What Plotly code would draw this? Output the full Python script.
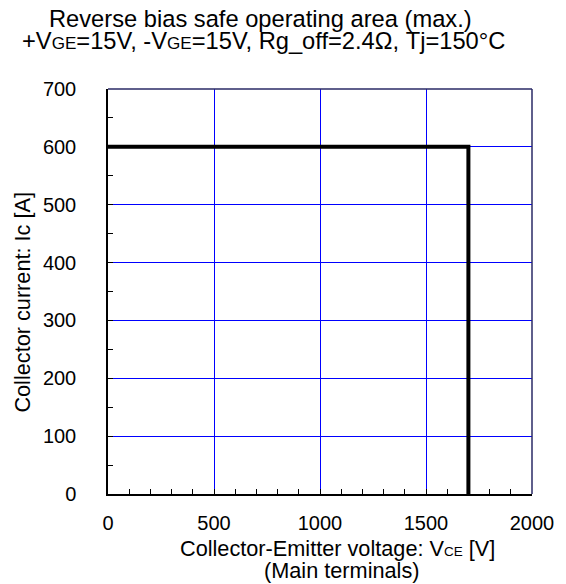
import plotly.graph_objects as go

# Data
vce = [0, 1700, 1700]
ic = [600, 600, 0]
x_ticks = [0, 500, 1000, 1500, 2000]
y_ticks = [0, 100, 200, 300, 400, 500, 600, 700]

FONT = "Liberation Sans, Arial, sans-serif"
W, H = 566, 584
L, R, T, B = 108, 31, 89, 90
TICK_FS = 20
TITLE_FS = 23.7
AX_FS = 21.7

fig = go.Figure()
fig.add_trace(go.Scatter(x=vce, y=ic, mode="lines",
                         line=dict(color="black", width=4),
                         showlegend=False, hoverinfo="skip"))

fig.update_xaxes(range=[0, 2000], tickvals=x_ticks, ticktext=[str(v) for v in x_ticks],
                 showgrid=True, gridcolor="#0000FF", gridwidth=1,
                 showline=True, linecolor="black", linewidth=1.5, mirror=False,
                 ticks="inside", ticklen=5, tickcolor="black",
                 minor=dict(dtick=100, ticks="inside", ticklen=5, tickcolor="black", showgrid=False),
                 zeroline=False, ticklabelstandoff=10,
                 tickfont=dict(family=FONT, size=TICK_FS, color="black"))
fig.update_yaxes(range=[0, 700], tickvals=y_ticks, ticktext=[str(v) for v in y_ticks],
                 showgrid=True, gridcolor="#0000FF", gridwidth=1,
                 showline=True, linecolor="black", linewidth=1.5, mirror=False,
                 ticks="inside", ticklen=5, tickcolor="black",
                 minor=dict(dtick=50, ticks="inside", ticklen=5, tickcolor="black", showgrid=False),
                 zeroline=False, ticklabelstandoff=26,
                 tickfont=dict(family=FONT, size=TICK_FS, color="black"))

# frame top/right
fig.add_shape(type="line", xref="paper", yref="paper", x0=0, x1=1, y0=1, y1=1,
              line=dict(color="#2a2a66", width=1.5))
fig.add_shape(type="line", xref="paper", yref="paper", x0=1, x1=1, y0=0, y1=1,
              line=dict(color="#2a2a66", width=1.5))

pw = W - L - R
ph = H - T - B

def px_x(px):
    return (px - L) / pw

def px_y(py):
    return (H - B - py) / ph

def sub(s, fs, ratio):
    return '<span style="font-size:%.1fpx">%s</span>' % (fs * ratio, s)

anns = [
    ("Reverse bias safe operating area (max.)", 262, 18.5, 0, TITLE_FS),
    ("+V" + sub("GE", TITLE_FS, 0.72) + "=15V, -V" + sub("GE", TITLE_FS, 0.72)
     + "=15V, Rg_off=2.4Ω, Tj=150°C", 265, 41.5, 0, TITLE_FS),
    ("Collector-Emitter voltage: V" + sub("CE", AX_FS, 0.62) + " [V]", 339, 548.5, 0, AX_FS),
    ("(Main terminals)", 343, 570.5, 0, AX_FS),
    ("Collector current: Ic [A]", 21, 302, -90, AX_FS),
]
for text, x, y, ang, fs in anns:
    fig.add_annotation(text=text, xref="paper", yref="paper", x=px_x(x), y=px_y(y),
                       xanchor="center", yanchor="middle", showarrow=False, textangle=ang,
                       font=dict(family=FONT, size=fs, color="black"))

fig.update_layout(width=W, height=H, margin=dict(l=L, r=R, t=T, b=B),
                  paper_bgcolor="white", plot_bgcolor="white")

fig.write_html("out.html")
